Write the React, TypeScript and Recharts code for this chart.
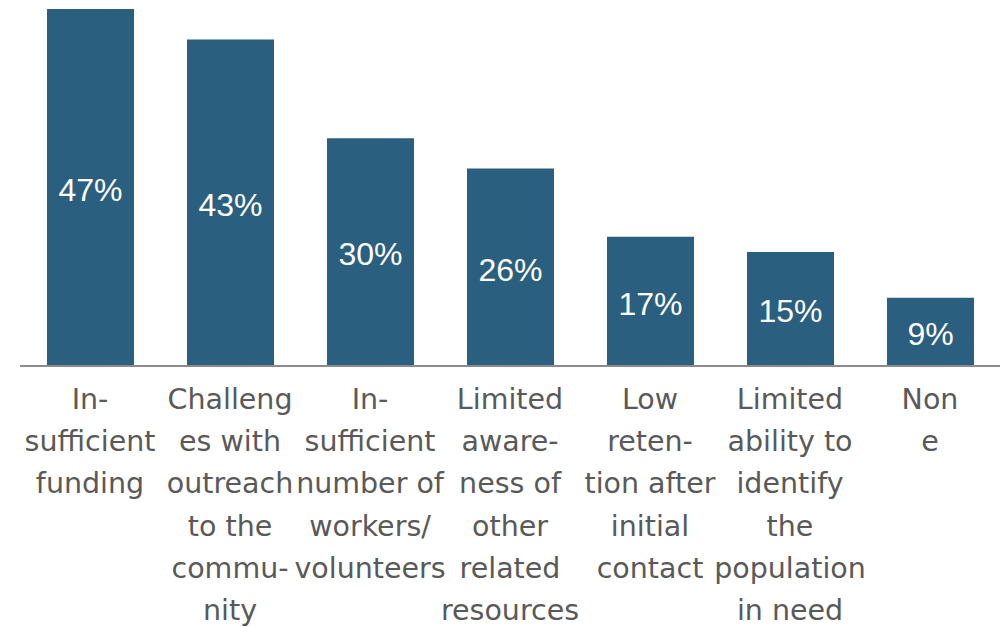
import { BarChart, Bar, XAxis, YAxis, LabelList } from 'recharts';

const categories = [
  'Insufficient funding',
  'Challenges with outreach to the community',
  'Insufficient number of workers/volunteers',
  'Limited awareness of other related resources',
  'Low retention after initial contact',
  'Limited ability to identify the population in need',
  'None',
];

// wrapped lines as they appear under each bar
const tickLines = [
  ['In-', 'sufficient', 'funding'],
  ['Challeng', 'es with', 'outreach', 'to the', 'commu-', 'nity'],
  ['In-', 'sufficient', 'number of', 'workers/', 'volunteers'],
  ['Limited', 'aware-', 'ness of', 'other', 'related', 'resources'],
  ['Low', 'reten-', 'tion after', 'initial', 'contact'],
  ['Limited', 'ability to', 'identify', 'the', 'population', 'in need'],
  ['Non', 'e'],
];

const shares = [47, 43, 30, 26, 17, 15, 9];

const data = categories.map((name, i) => ({ name, share: shares[i] }));

function WrappedTick(props: any) {
  const { x, y, payload } = props;
  const lines = tickLines[payload.index] || [payload.value];
  return (
    <g transform={`translate(${x},${y})`}>
      <text
        textAnchor="middle"
        fill="#595959"
        fontSize={28.5}
        fontFamily="'DejaVu Sans', sans-serif"
      >
        {lines.map((l: string, i: number) => (
          <tspan key={i} x={0} y={35 + i * 42.2}>
            {l}
          </tspan>
        ))}
      </text>
    </g>
  );
}

export default function App() {
  return (
    <div style={{ position: 'absolute', left: 0, top: 0, background: '#fff' }}>
      <BarChart
        width={1005}
        height={627}
        data={data}
        margin={{ top: 9, right: 5, left: 20, bottom: 0 }}
      >
        <XAxis
          dataKey="name"
          height={261}
          interval={0}
          tickLine={false}
          axisLine={{ stroke: '#8c8c8c', strokeWidth: 2 }}
          tick={<WrappedTick />}
        />
        <YAxis hide domain={[0, 47]} />
        <Bar dataKey="share" fill="#2a5f7f" barSize={87} isAnimationActive={false}>
          <LabelList
            dataKey="share"
            position="center"
            offset={0}
            formatter={(v: any) => `${v}%`}
            fill="#ffffff"
            fontSize={32}
            fontFamily="'Liberation Sans', Arial, sans-serif"
            dy={2}
          />
        </Bar>
      </BarChart>
    </div>
  );
}
